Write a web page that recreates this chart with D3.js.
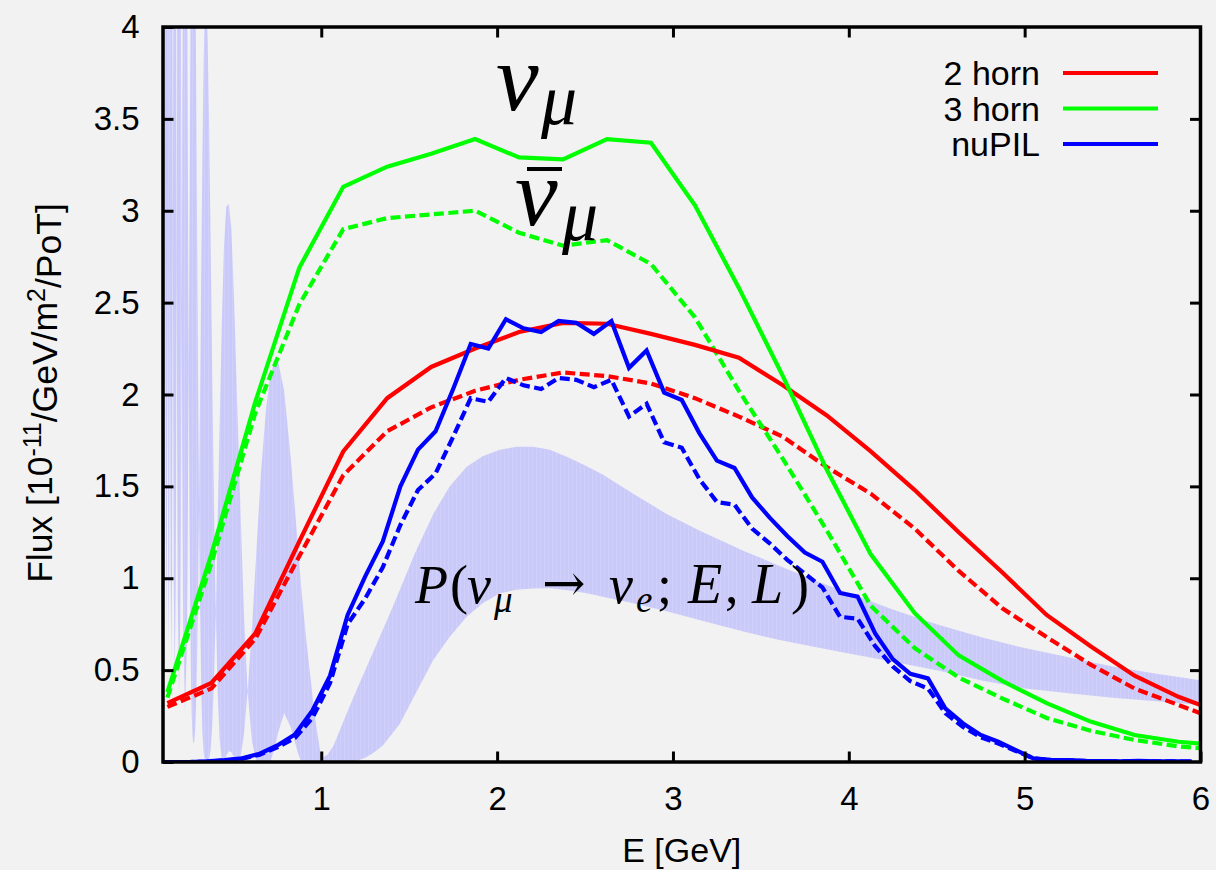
<!DOCTYPE html>
<html>
<head>
<meta charset="utf-8">
<script src="https://cdn.jsdelivr.net/npm/d3@7"></script>
<style>
  html, body { margin: 0; padding: 0; background: #f2f2f2; }
  svg { display: block; }
</style>
</head>
<body>
<svg id="chart" width="1216" height="870"></svg>
<script>
// ---- axis ticks ----
const energyTicks = [1, 2, 3, 4, 5, 6];
const fluxTicks = [0, 0.5, 1, 1.5, 2, 2.5, 3, 3.5, 4];
const fluxTickLabels = ["0", "0.5", "1", "1.5", "2", "2.5", "3", "3.5", "4"];

// ---- horn fluxes (0.25 GeV bins) ----
const hornE = [0.125, 0.375, 0.625, 0.875, 1.125, 1.375, 1.625, 1.875, 2.125, 2.375, 2.625, 2.875,
               3.125, 3.375, 3.625, 3.875, 4.125, 4.375, 4.625, 4.875, 5.125, 5.375, 5.625, 5.875, 6.0];
const twoHornNu    = [0.32, 0.43, 0.70, 1.20, 1.69, 1.98, 2.15, 2.25, 2.34, 2.39, 2.385, 2.33,
                      2.27, 2.20, 2.05, 1.886, 1.69, 1.48, 1.25, 1.03, 0.80, 0.63, 0.47, 0.355, 0.31];
const twoHornNubar = [0.30, 0.40, 0.67, 1.12, 1.56, 1.80, 1.93, 2.02, 2.08, 2.12, 2.10, 2.06,
                      1.98, 1.88, 1.77, 1.605, 1.46, 1.27, 1.04, 0.835, 0.68, 0.53, 0.40, 0.31, 0.265];
const threeHornNu    = [0.38, 1.13, 1.96, 2.69, 3.13, 3.24, 3.31, 3.39, 3.29, 3.28, 3.39, 3.37,
                        3.03, 2.58, 2.10, 1.59, 1.13, 0.81, 0.58, 0.44, 0.32, 0.22, 0.147, 0.11, 0.10];
const threeHornNubar = [0.35, 1.08, 1.90, 2.49, 2.90, 2.96, 2.98, 3.00, 2.88, 2.81, 2.84, 2.71,
                        2.42, 2.02, 1.65, 1.26, 0.85, 0.62, 0.46, 0.345, 0.24, 0.17, 0.12, 0.085, 0.075];

// ---- nuPIL fluxes (0.1 GeV bins) ----
const pilE = [0.05, 0.15, 0.25, 0.35, 0.45, 0.55, 0.65, 0.75, 0.85, 0.95, 1.05,
              1.15, 1.25, 1.35, 1.45, 1.55, 1.65, 1.75, 1.85, 1.95, 2.05,
              2.15, 2.25, 2.35, 2.45, 2.55, 2.65, 2.75, 2.85, 2.95, 3.05,
              3.15, 3.25, 3.35, 3.45, 3.55, 3.65, 3.75, 3.85, 3.95, 4.05,
              4.15, 4.25, 4.35, 4.45, 4.55, 4.65, 4.75, 4.85, 4.95, 5.05,
              5.15, 5.25, 5.35, 5.45, 5.55, 5.65, 5.75, 5.85, 5.95];
const pilNu = [0, 0, 0, 0.003, 0.01, 0.02, 0.045, 0.09, 0.15, 0.28, 0.47,
               0.80, 1.01, 1.20, 1.50, 1.70, 1.80, 2.03, 2.275, 2.25, 2.41,
               2.36, 2.34, 2.40, 2.39, 2.33, 2.40, 2.145, 2.24, 2.01, 1.97,
               1.79, 1.64, 1.60, 1.44, 1.33, 1.23, 1.14, 1.09, 0.92, 0.90,
               0.70, 0.56, 0.48, 0.455, 0.29, 0.21, 0.147, 0.11, 0.065, 0.02,
               0.012, 0.01, 0.006, 0.005, 0.004, 0.006, 0.004, 0.003, 0.003];
const pilNubar = [0, 0, 0, 0.002, 0.008, 0.018, 0.04, 0.08, 0.13, 0.24, 0.43,
                  0.75, 0.89, 1.06, 1.29, 1.48, 1.57, 1.77, 1.98, 1.96, 2.09,
                  2.05, 2.03, 2.09, 2.08, 2.04, 2.08, 1.88, 1.95, 1.74, 1.71,
                  1.54, 1.415, 1.40, 1.27, 1.19, 1.10, 1.025, 0.95, 0.79, 0.78,
                  0.63, 0.52, 0.44, 0.40, 0.265, 0.19, 0.135, 0.10, 0.06, 0.02,
                  0.01, 0.008, 0.005, 0.004, 0.004, 0.005, 0.003, 0.003, 0.002];

// ---- appearance probability band (arbitrary scale): energy, lower and upper envelope ----
const bandE = [
  0.1000, 0.1009, 0.1029, 0.1043, 0.1050, 0.1058, 0.1072, 0.1095, 0.1119, 0.1136,
  0.1144, 0.1153, 0.1170, 0.1198, 0.1226, 0.1246, 0.1256, 0.1267, 0.1288, 0.1321,
  0.1356, 0.1380, 0.1393, 0.1405, 0.1432, 0.1473, 0.1516, 0.1547, 0.1563, 0.1579,
  0.1612, 0.1664, 0.1720, 0.1739, 0.1759, 0.1779, 0.1800, 0.1821, 0.1843, 0.1912,
  0.1986, 0.2012, 0.2039, 0.2066, 0.2094, 0.2123, 0.2153, 0.2247, 0.2350, 0.2387,
  0.2424, 0.2463, 0.2503, 0.2545, 0.2587, 0.2632, 0.2677, 0.2725, 0.2774, 0.2825,
  0.2878, 0.2933, 0.2990, 0.3049, 0.3110, 0.3175, 0.3241, 0.3311, 0.3384, 0.3460,
  0.3540, 0.3623, 0.3711, 0.3802, 0.3899, 0.4000, 0.4107, 0.4219, 0.4338, 0.4464,
  0.4598, 0.4739, 0.4890, 0.5050, 0.5220, 0.5410, 0.5600, 0.5810, 0.6060, 0.6310,
  0.6570, 0.6870, 0.7100, 0.7300, 0.7550, 0.7890, 0.8260, 0.8670, 0.8850, 0.9130,
  0.9630, 1.0000, 1.0350, 1.0700, 1.1450, 1.2000, 1.2500, 1.3000, 1.3500, 1.4000,
  1.4480, 1.5300, 1.6370, 1.7300, 1.8270, 1.9200, 2.0160, 2.1100, 2.2060, 2.3000,
  2.4000, 2.5100, 2.6000, 2.7740, 2.9640, 3.1500, 3.4000, 3.6000, 3.8000, 4.0000,
  4.2500, 4.5000, 4.7500, 5.0000, 5.2500, 5.5000, 5.7500, 6.0000];
const bandLow = [
  0.75, 0.74, 1.30, 2.54, 3.42, 2.52, 1.28, 0.70, 1.25, 2.45,
  3.32, 2.43, 1.23, 0.65, 1.19, 2.36, 3.21, 2.34, 1.16, 0.60,
  1.12, 2.25, 3.08, 2.23, 1.07, 0.54, 1.03, 2.11, 2.91, 2.09,
  0.97, 0.46, 0.92, 1.34, 1.94, 2.72, 1.91, 1.29, 0.85, 0.37,
  0.78, 1.18, 1.74, 2.46, 1.70, 1.11, 0.70, 0.27, 0.61, 0.96,
  1.47, 2.14, 1.39, 0.84, 0.47, 0.25, 0.14, 0.10, 0.11, 0.17,
  0.30, 0.53, 0.89, 1.39, 0.81, 0.40, 0.16, 0.05, 0.01, 0.00,
  0.003, 0.016, 0.07, 0.20, 0.44, 0.81, 0.38, 0.125, 0.015, 0.004,
  0.034, 0.058, 0.053, 0.023, 0.000, 0.028, 0.147, 0.383, 0.112, 0.005,
  0.0, 0.0, 0.0, 0.06, 0.16, 0.265, 0.19, 0.05, 0.0, 0.0,
  0.0, 0.0, 0.0, 0.0, 0.0, 0.006, 0.023, 0.052, 0.09, 0.15,
  0.21, 0.36, 0.555, 0.68, 0.79, 0.865, 0.918, 0.937, 0.944, 0.945,
  0.935, 0.918, 0.90, 0.864, 0.82, 0.773, 0.71, 0.665, 0.627, 0.59,
  0.545, 0.50, 0.445, 0.40, 0.374, 0.35, 0.33, 0.31];
const bandHigh = [
  4.6, 4.6, 4.6, 4.45, 3.42, 4.44, 4.6, 4.6, 4.6, 4.30,
  3.32, 4.30, 4.6, 4.6, 4.6, 4.20, 3.21, 4.19, 4.6, 4.6,
  4.6, 4.06, 3.08, 4.04, 4.6, 4.6, 4.6, 3.88, 2.91, 3.85,
  4.6, 4.6, 4.6, 4.6, 3.66, 2.72, 3.61, 4.56, 4.6, 4.6,
  4.6, 4.34, 3.37, 2.46, 3.31, 4.21, 4.6, 4.6, 4.6, 3.92,
  2.99, 2.14, 2.88, 3.67, 4.40, 4.6, 4.6, 4.6, 4.6, 4.58,
  3.83, 2.99, 2.14, 1.39, 2.01, 2.67, 3.30, 3.82, 4.12, 4.16,
  3.93, 3.46, 2.81, 2.09, 1.40, 0.81, 1.29, 1.83, 2.36, 2.80,
  3.02, 3.04, 2.90, 2.49, 1.95, 1.36, 0.81, 0.383, 0.728, 1.147,
  1.575, 1.93, 2.10, 2.17, 2.18, 2.02, 1.66, 1.18, 0.96, 0.68,
  0.25, 0.02, 0.04, 0.09, 0.265, 0.39, 0.50, 0.61, 0.72, 0.83,
  0.94, 1.13, 1.35, 1.50, 1.607, 1.665, 1.70, 1.715, 1.716, 1.70,
  1.66, 1.61, 1.565, 1.46, 1.35, 1.26, 1.15, 1.07, 0.99, 0.92,
  0.83, 0.75, 0.68, 0.62, 0.57, 0.52, 0.48, 0.445];

// ---- legend ----
const legendNames = ["2 horn", "3 horn", "nuPIL"];
const seriesColors = ["#ff0000", "#00ff00", "#0000ff"];

// ---- layout ----
const W = 1216, H = 870;
const plot = { left: 163, right: 1200.5, top: 27, bottom: 762 };
const sansFont = "'Liberation Sans', Arial, Helvetica, sans-serif";
const mathFont = "'Liberation Serif', 'DejaVu Serif', serif";

const svg = d3.select("#chart");
svg.append("rect").attr("width", W).attr("height", H).attr("fill", "#f2f2f2");

const x = d3.scaleLinear().domain([0.1, 6]).range([plot.left, plot.right]);
const y = d3.scaleLinear().domain([0, 4]).range([plot.bottom, plot.top]);

const defs = svg.append("defs");
defs.append("clipPath").attr("id", "plotClip")
  .append("rect")
  .attr("x", plot.left).attr("y", plot.top)
  .attr("width", plot.right - plot.left).attr("height", plot.bottom - plot.top);

// faint vertical seams inside the filled band
const stripe = defs.append("pattern").attr("id", "bandFill")
  .attr("patternUnits", "userSpaceOnUse").attr("width", 4).attr("height", 8);
stripe.append("rect").attr("width", 4).attr("height", 8).attr("fill", "#cacafa");
stripe.append("rect").attr("width", 0.7).attr("height", 8).attr("fill", "#d3d3fb");

const g = svg.append("g").attr("clip-path", "url(#plotClip)");

// probability band
const bandRows = bandE.map((e, i) => ({ e, lo: bandLow[i], hi: bandHigh[i] }));
g.append("path")
  .datum(bandRows)
  .attr("fill", "url(#bandFill)")
  .attr("d", d3.area().x(d => x(d.e)).y0(d => y(d.lo)).y1(d => y(d.hi)).curve(d3.curveLinear));

// flux curves
const line = d3.line().x(d => x(d[0])).y(d => y(d[1]));
const curves = [
  { e: hornE, v: twoHornNubar,   color: seriesColors[0], dash: true },
  { e: hornE, v: threeHornNubar, color: seriesColors[1], dash: true },
  { e: pilE,  v: pilNubar,       color: seriesColors[2], dash: true },
  { e: hornE, v: twoHornNu,      color: seriesColors[0], dash: false },
  { e: hornE, v: threeHornNu,    color: seriesColors[1], dash: false },
  { e: pilE,  v: pilNu,          color: seriesColors[2], dash: false }
];
curves.forEach(c => {
  g.append("path")
    .datum(c.e.map((e, i) => [e, c.v[i]]))
    .attr("fill", "none")
    .attr("stroke", c.color)
    .attr("stroke-width", 4.2)
    .attr("stroke-linejoin", "miter")
    .attr("stroke-dasharray", c.dash ? "10,4.5" : null)
    .attr("d", line);
});

// axes: inward ticks on all four sides
const tickLen = 10.5;
const fmtY = d => fluxTickLabels[fluxTicks.indexOf(d)];

svg.append("g").attr("transform", `translate(0,${plot.bottom})`)
  .call(d3.axisBottom(x).tickValues(energyTicks).tickSize(-tickLen).tickPadding(25).tickFormat(d3.format("d")));
svg.append("g").attr("transform", `translate(${plot.left},0)`)
  .call(d3.axisLeft(y).tickValues(fluxTicks).tickSize(-tickLen).tickPadding(23.5).tickFormat(fmtY));
svg.append("g").attr("transform", `translate(0,${plot.top})`)
  .call(d3.axisTop(x).tickValues(energyTicks.slice(0, -1)).tickSize(-tickLen).tickFormat(""));
svg.append("g").attr("transform", `translate(${plot.right},0)`)
  .call(d3.axisRight(y).tickValues(fluxTicks.slice(1, -1)).tickSize(-tickLen).tickFormat(""));

svg.selectAll(".domain").remove();
svg.selectAll(".tick line").attr("stroke", "#000").attr("stroke-width", 3);
svg.selectAll(".tick text").attr("fill", "#000")
  .style("font-family", sansFont).style("font-size", "33px");

// frame
svg.append("rect")
  .attr("x", plot.left).attr("y", plot.top)
  .attr("width", plot.right - plot.left).attr("height", plot.bottom - plot.top)
  .attr("fill", "none").attr("stroke", "#000").attr("stroke-width", 3.5);

// axis titles
svg.append("text")
  .attr("x", (plot.left + plot.right) / 2).attr("y", 862)
  .attr("text-anchor", "middle")
  .style("font-family", sansFont).style("font-size", "34px")
  .text("E [GeV]");

const yTitle = svg.append("text")
  .attr("transform", `translate(52,393) rotate(-90)`)
  .attr("text-anchor", "middle")
  .style("font-family", sansFont).style("font-size", "35.5px");
yTitle.append("tspan").text("Flux [10");
yTitle.append("tspan").attr("dy", "-0.45em").style("font-size", "25px").text("-11");
yTitle.append("tspan").attr("dy", "0.45em").text("/GeV/m");
yTitle.append("tspan").attr("dy", "-0.45em").style("font-size", "25px").text("2");
yTitle.append("tspan").attr("dy", "0.45em").text("/PoT]");

// legend
const legend = svg.append("g");
legendNames.forEach((name, i) => {
  const ly = 73 + i * 35.5;
  legend.append("text")
    .attr("x", 1040).attr("y", ly + 12)
    .attr("text-anchor", "end")
    .style("font-family", sansFont).style("font-size", "34px")
    .text(name);
  legend.append("line")
    .attr("x1", 1063).attr("x2", 1158).attr("y1", ly).attr("y2", ly)
    .attr("stroke", seriesColors[i]).attr("stroke-width", 4.2);
});

// math annotations: each glyph group placed on its own pen position
function mathLabel(parts) {
  const t = svg.append("text").style("font-family", mathFont);
  parts.forEach(p => {
    const s = t.append("tspan").attr("x", p.x).attr("y", p.y)
      .style("font-size", p.size + "px").text(p.t);
    if (p.italic) s.style("font-style", "italic");
    if (p.font) s.style("font-family", p.font);
  });
  return t;
}

mathLabel([
  { t: "ν", x: 496, y: 110, size: 96, italic: true },
  { t: "μ", x: 541, y: 124, size: 72, italic: true }
]);

mathLabel([
  { t: "ν", x: 515, y: 225, size: 96, italic: true },
  { t: "μ", x: 562, y: 240, size: 72, italic: true }
]);
svg.append("line").attr("x1", 527).attr("x2", 562).attr("y1", 169).attr("y2", 169)
  .attr("stroke", "#000").attr("stroke-width", 4);

mathLabel([
  { t: "P", x: 415, y: 603, size: 54, italic: true },
  { t: "(", x: 450, y: 603, size: 54 },
  { t: "ν", x: 467, y: 603, size: 54, italic: true },
  { t: "μ", x: 494, y: 612, size: 37, italic: true },
  { t: "→", x: 542, y: 601, size: 52, font: "'DejaVu Serif', serif" },
  { t: "ν", x: 609, y: 603, size: 54, italic: true },
  { t: "e", x: 636, y: 612, size: 37, italic: true },
  { t: ";", x: 657, y: 603, size: 54 },
  { t: "E", x: 688, y: 603, size: 56, italic: true },
  { t: ",", x: 725, y: 603, size: 54 },
  { t: "L", x: 752, y: 603, size: 56, italic: true },
  { t: ")", x: 791, y: 603, size: 54 }
]);
</script>
</body>
</html>
